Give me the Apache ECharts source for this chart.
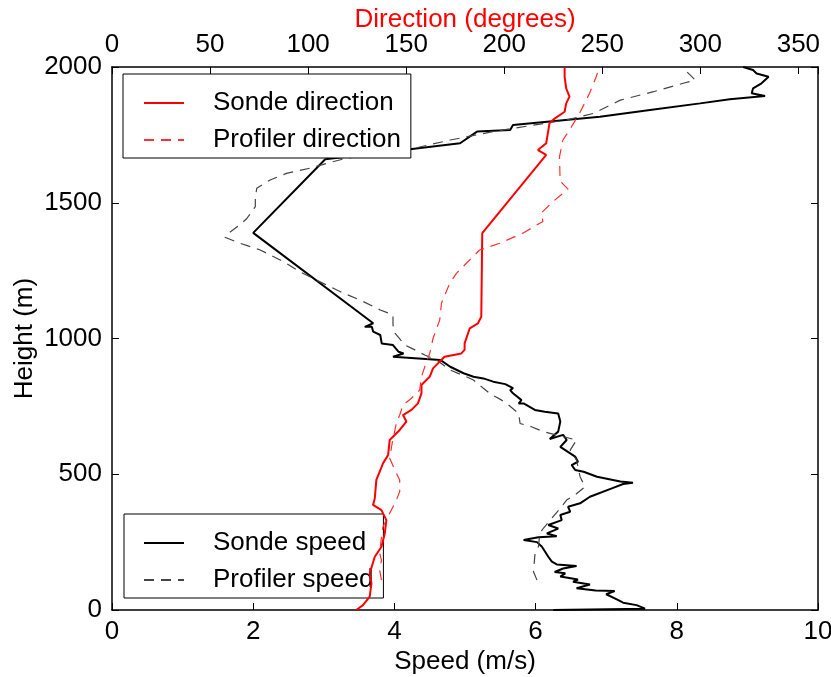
<!DOCTYPE html>
<html>
<head>
<meta charset="utf-8">
<script src="https://cdn.jsdelivr.net/npm/echarts@6/dist/echarts.min.js"></script>
<style>
html,body{margin:0;padding:0;background:#fff;}
#c{width:831px;height:677px;}
</style>
</head>
<body>
<div id="c"></div>
<script>
// ---- data (speed m/s, direction degrees, height m) ----
const sondeSpeed = [6.25,7.55,7.43,7.24,7.15,7.0,7.12,6.85,6.58,6.77,6.53,6.6,6.35,6.42,6.27,6.39,6.58,6.3,6.23,6.18,6.09,6.02,5.83,6.04,6.3,6.16,6.32,6.18,6.37,6.35,6.49,6.46,6.63,6.77,7.08,7.24,7.38,7.2,6.87,6.68,6.56,6.51,6.6,6.56,6.42,6.35,6.44,6.39,6.2,6.32,6.35,6.32,6.13,5.99,5.83,5.76,5.8,5.68,5.64,5.68,5.57,5.4,5.26,5.12,4.98,4.79,4.65,3.98,4.13,4.06,3.98,3.82,3.8,3.7,3.68,3.58,3.7,2.0,3.02,4.22,4.93,5.17,5.64,5.68,6.2,6.91,7.62,8.33,8.75,9.25,9.06,9.08,9.2,9.3,9.13,9.08,8.94];
const sondeSpeedHeight = [0,5,18,27,39,58,70,72,80,94,104,112,123,135,140,153,162,168,178,196,233,250,258,268,272,282,300,313,331,350,362,380,393,417,448,464,469,473,491,509,516,534,546,565,589,601,626,645,630,657,694,724,730,737,761,761,773,798,810,817,832,841,853,859,872,896,921,933,945,951,976,982,1013,1025,1043,1043,1056,1389,1660,1697,1719,1762,1768,1786,1799,1817,1842,1866,1881,1893,1903,1921,1940,1964,1976,1989,2000];

const profilerSpeed = [6.02,5.97,5.99,6.04,6.06,6.11,6.23,6.35,6.44,6.56,6.7,6.63,6.58,6.49,6.58,6.11,5.94,5.78,5.76,5.59,5.52,5.35,5.26,5.12,5.02,4.79,4.6,4.43,4.29,4.15,4.01,3.98,3.98,3.8,3.56,3.23,2.99,2.66,2.43,2.1,1.81,1.6,1.65,1.81,1.91,2.03,2.03,2.05,2.24,2.47,2.8,3.04,3.32,4.27,4.79,5.4,5.97,6.44,6.82,7.2,7.67,8.09,8.26,8.14];
const profilerSpeedHeight = [110,141,203,233,282,301,338,375,405,424,454,491,552,589,626,657,675,687,724,761,773,798,817,847,859,884,921,939,958,976,1019,1050,1087,1105,1136,1173,1203,1246,1283,1326,1351,1373,1388,1418,1442,1486,1517,1553,1584,1608,1627,1645,1664,1700,1731,1762,1786,1805,1829,1878,1909,1940,1952,1983];

const sondeDir = [124.5,128,131.4,132.3,131.4,134,137.4,139.1,139.9,137.4,133.1,134,134.8,138.2,140.8,141.6,146.7,150.1,148.4,152.7,156,157.8,157.8,162,163.7,167.1,169.6,178.1,179.8,179.8,182.4,186.6,188.3,188.8,211.3,221.4,217.2,221.4,223.1,225.7,230.8,231.6,233.3,231.6,230.8,230.8];
const sondeDirHeight = [0,18,49,98,135,196,233,282,331,368,387,411,479,540,571,626,663,694,718,737,761,798,829,859,890,915,933,945,958,982,1037,1056,1080,1388,1587,1676,1694,1719,1793,1810,1835,1866,1891,1921,1964,2000];

const profilerDir = [137.4,136.5,137.4,136.5,137.4,138.2,141.6,145,146.7,146.7,144.2,141.6,143,145,146.7,148.4,152.7,156.9,157.8,159.5,162,163.7,167.1,168,172.2,175.6,180.7,187.5,197.7,209.5,219.7,218.9,224.8,232.5,228.5,228.2,229.9,233.3,238.4,243.5,246.9,248.6];
const profilerDirHeight = [110,147,184,209,270,307,356,405,436,479,516,559,620,688,718,755,780,810,859,896,945,1000,1068,1130,1203,1240,1277,1326,1351,1388,1431,1462,1504,1550,1580,1670,1731,1768,1829,1903,1964,2000];

const speedTicks = {min:0, max:10, interval:2};
const dirTicks = {min:0, max:360, interval:50};
const heightTicks = {min:0, max:2000, interval:500};

function pairs(xs, ys){ return xs.map((v,i)=>[v, ys[i]]); }

const FONT = 'Liberation Sans, Arial, sans-serif';
const FS = 26;

const chart = echarts.init(document.getElementById('c'));
const axisLineStyle = {onZero:false, lineStyle:{color:'#000', width:1.5}};
const tickStyle = {show:true, inside:true, length:7, lineStyle:{color:'#000', width:1}};
const plain = v => String(v);

const legendCommon = {
  orient:'vertical', selectedMode:false, backgroundColor:'#fff', borderColor:'#000', borderWidth:1, borderRadius:0,
  padding:[16,10,5,20], itemGap:11, itemWidth:40, itemHeight:14,
  itemStyle:{opacity:0, borderWidth:0},
  formatter:'{t|{name}}',
  textStyle:{color:'#000', fontSize:26, fontFamily:FONT,
    rich:{t:{fontSize:26, fontFamily:FONT, color:'#000', padding:[0,0,0,24]}}}
};

chart.setOption({
  animation:false,
  backgroundColor:'#fff',
  textStyle:{fontFamily:FONT},
  grid:{left:112, right:13, top:67, bottom:67, containLabel:false, outerBoundsMode:'none'},
  xAxis:[
    {type:'value', position:'bottom', min:speedTicks.min, max:speedTicks.max, interval:speedTicks.interval,
     axisLine:axisLineStyle, axisTick:tickStyle, splitLine:{show:false},
     axisLabel:{color:'#000', fontSize:FS, fontFamily:FONT, margin:9, formatter:plain},
     name:'Speed (m/s)', nameLocation:'middle', nameGap:39, nameMoveOverlap:false,
     nameTextStyle:{color:'#000', fontSize:FS, fontFamily:FONT}},
    {type:'value', position:'top', min:dirTicks.min, max:dirTicks.max, interval:dirTicks.interval,
     axisLine:axisLineStyle, axisTick:tickStyle, splitLine:{show:false},
     axisLabel:{color:'#000', fontSize:FS, fontFamily:FONT, margin:9,
       formatter:v => v > 355 ? '' : String(v)},
     name:'Direction (degrees)', nameLocation:'middle', nameGap:34, nameMoveOverlap:false,
     nameTextStyle:{color:'#ff0000', fontSize:FS, fontFamily:FONT}}
  ],
  yAxis:[
    {type:'value', position:'left', min:heightTicks.min, max:heightTicks.max, interval:heightTicks.interval,
     axisLine:axisLineStyle, axisTick:tickStyle, splitLine:{show:false},
     axisLabel:{color:'#000', fontSize:FS, fontFamily:FONT, margin:10, formatter:plain},
     name:'Height (m)', nameLocation:'middle', nameGap:74, nameRotate:90, nameMoveOverlap:false,
     nameTextStyle:{color:'#000', fontSize:FS, fontFamily:FONT}},
    {type:'value', position:'right', min:heightTicks.min, max:heightTicks.max, interval:heightTicks.interval,
     axisLine:axisLineStyle, axisTick:tickStyle, splitLine:{show:false},
     axisLabel:{show:false}}
  ],
  legend:[
    Object.assign({}, legendCommon, {data:['Sonde direction','Profiler direction'], left:123, top:74, z:10}),
    Object.assign({}, legendCommon, {data:['Sonde speed','Profiler speed'], left:124, top:514, z:2, padding:[16,10,5,19]})
  ],
  series:[
    {name:'Sonde speed', type:'line', xAxisIndex:0, yAxisIndex:0, z:1, symbol:'none', showSymbol:false,
     data:pairs(sondeSpeed, sondeSpeedHeight), color:'#000',
     lineStyle:{color:'#000', width:2}},
    {name:'Profiler speed', type:'line', xAxisIndex:0, yAxisIndex:0, z:1, symbol:'none', showSymbol:false,
     data:pairs(profilerSpeed, profilerSpeedHeight), color:'#444',
     lineStyle:{color:'#444', width:1.2, type:[10,7]}},
    {name:'Sonde direction', type:'line', xAxisIndex:1, yAxisIndex:0, z:3, symbol:'none', showSymbol:false,
     data:pairs(sondeDir, sondeDirHeight), color:'#ff0000',
     lineStyle:{color:'#ff0000', width:2}},
    {name:'Profiler direction', type:'line', xAxisIndex:1, yAxisIndex:0, z:3, symbol:'none', showSymbol:false,
     data:pairs(profilerDir, profilerDirHeight), color:'#ff3030',
     lineStyle:{color:'#ff3030', width:1.2, type:[10,7]}}
  ]
});
</script>
</body>
</html>
